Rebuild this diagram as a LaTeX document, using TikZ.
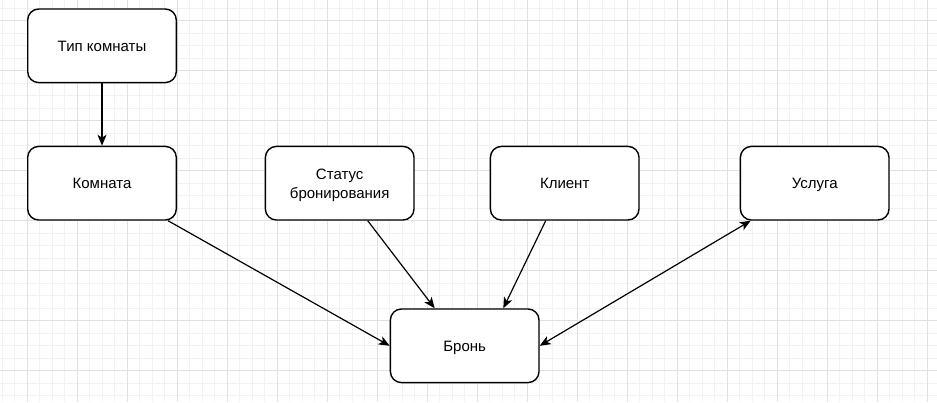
\documentclass[tikz,border=0pt]{standalone}
\usepackage{fontspec}
\setmainfont{Liberation Sans}
\usetikzlibrary{arrows.meta}

\definecolor{gridminor}{HTML}{F2F2F2}
\definecolor{gridmajor}{HTML}{E0E0E0}

\tikzset{
  entity/.style={draw, line width=1.4pt, rounded corners=11pt, fill=white,
    minimum width=148.6pt, minimum height=73.6pt, align=center,
    text height=10.7pt, text depth=0pt,
    font=\fontsize{15}{19}\selectfont},
  link/.style={line width=1.2pt, -{Stealth[length=11pt,width=9pt,inset=3pt]}},
  bothlink/.style={line width=1.2pt,
    {Stealth[length=11pt,width=9pt,inset=3pt]}-{Stealth[length=11pt,width=9pt,inset=3pt]}},
}

\begin{document}
\begin{tikzpicture}[x=1pt, y=-1pt]
\useasboundingbox[fill=white] (0,0) rectangle (937,402);
% grid
\foreach \x in {2,14.5,...,937} \draw[gridminor, line width=1pt] (\x,0) -- (\x,402);
\foreach \y in {-4.3,8.2,...,402} \draw[gridminor, line width=1pt] (0,\y) -- (937,\y);
\foreach \x in {27,77,...,937} \draw[gridmajor, line width=1pt] (\x,0) -- (\x,402);
\foreach \y in {20.7,70.7,...,402} \draw[gridmajor, line width=1pt] (0,\y) -- (937,\y);

% entities
\node[entity] (tipkomnaty) at (102,45.8) {Тип комнаты};
\node[entity] (komnata) at (102,183.2) {Комната};
\node[entity, text height=29.7pt] (status) at (339.7,183.2) {Статус\\бронирования};
\node[entity] (klient) at (564.7,183.2) {Клиент};
\node[entity] (usluga) at (814.7,183.2) {Услуга};
\node[entity] (bron) at (464.7,345.8) {Бронь};

% links
\draw[link] (tipkomnaty) -- (komnata);
\draw[link] ([xshift=66pt]komnata.south) -- (bron.west);
\draw[link] ([xshift=28pt]status.south) -- ([xshift=-30pt]bron.north);
\draw[link] ([xshift=-19pt]klient.south) -- ([xshift=38.6pt]bron.north);
\draw[bothlink] (bron.east) -- ([xshift=-64pt]usluga.south);
\end{tikzpicture}
\end{document}
